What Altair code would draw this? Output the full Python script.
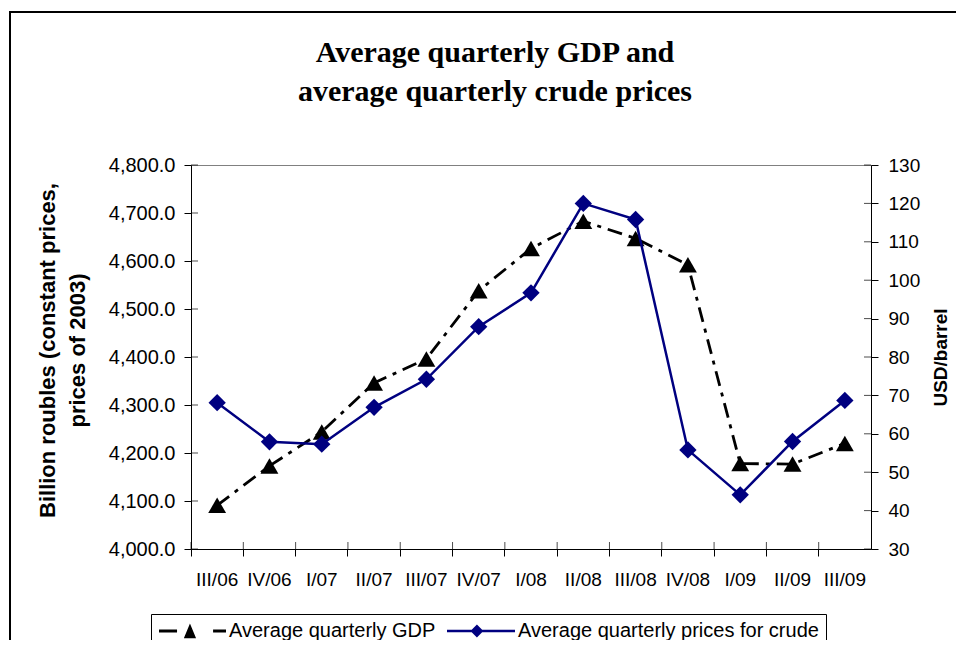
import altair as alt
import pandas as pd

quarters = ["III/06", "IV/06", "I/07", "II/07", "III/07", "IV/07", "I/08",
            "II/08", "III/08", "IV/08", "I/09", "II/09", "III/09"]
gdp = [4091, 4173, 4244, 4346, 4396, 4538, 4626, 4683, 4647, 4592, 4178, 4177, 4220]
crude = [68.1, 57.9, 57.3, 66.9, 74.2, 87.9, 96.7, 120.0, 115.8, 55.8, 44.1, 58.0, 68.7]
series_names = ["Average quarterly GDP", "Average quarterly prices for crude"]
gdp_ticks = list(range(4000, 4801, 100))
crude_ticks = list(range(30, 131, 10))
title_lines = ["Average quarterly GDP and", "average quarterly crude prices"]
left_title = ["Billion roubles (constant prices,", "prices of 2003)"]
right_title = "USD/barrel"

NAVY = "#000080"
W, H = 680, 384
FONT = "Liberation Sans"

df = pd.DataFrame({
    "quarter": quarters * 2,
    "series": [series_names[0]] * len(quarters) + [series_names[1]] * len(quarters),
    "value": gdp + crude,
})
gdp_tick_df = pd.DataFrame({"value": gdp_ticks})
crude_tick_df = pd.DataFrame({"value": crude_ticks})

x_scale = alt.Scale(type="band", paddingInner=0, paddingOuter=0)
x_enc = alt.X(
    "quarter:N", sort=quarters, scale=x_scale,
    axis=alt.Axis(title=None, bandPosition=0, labelAngle=0,
                  labelPadding=14, tickSize=7, labelFontSize=19),
)

base = alt.Chart(df)

gdp_y = alt.Y("value:Q",
              scale=alt.Scale(domain=[4000, 4800], nice=False, zero=False),
              axis=alt.Axis(orient="left", values=gdp_ticks, format=",.1f",
                            title=left_title, titleFontSize=22, titleFontWeight="bold",
                            titleLineHeight=30, titlePadding=19, titleY=185,
                            labelPadding=9, tickSize=7, labelFontSize=20,
                            labelOverlap=False))
crude_y = alt.Y("value:Q",
                scale=alt.Scale(domain=[30, 130], nice=False, zero=False),
                axis=alt.Axis(orient="right", values=crude_ticks, format="d",
                              title=right_title, titleFontSize=19, titleFontWeight="bold",
                              titleAngle=270, titleBaseline="top", titlePadding=12,
                              labelPadding=10, tickSize=7, labelFontSize=19,
                              labelOverlap=False))

gdp_f = base.transform_filter(alt.datum.series == series_names[0])
crude_f = base.transform_filter(alt.datum.series == series_names[1])

gdp_line = gdp_f.mark_line(color="black", strokeWidth=2.8, strokeDash=[15, 7, 4, 7]).encode(x=x_enc, y=gdp_y)
gdp_pts = gdp_f.mark_point(shape="triangle-up", filled=True, color="black", size=320, opacity=1).encode(x=x_enc, y=gdp_y)
crude_line = crude_f.mark_line(color=NAVY, strokeWidth=2.5).encode(x=x_enc, y=crude_y)
crude_pts = crude_f.mark_point(shape="diamond", filled=True, color=NAVY, size=300, opacity=1).encode(x=x_enc, y=crude_y)

# inner halves of the axis ticks (the reference ticks cross the axis lines)
gdp_inner = alt.Chart(gdp_tick_df).mark_tick(orient="horizontal", color="black", thickness=1, size=7).encode(
    y=gdp_y, x=alt.value(3.5))
crude_inner = alt.Chart(crude_tick_df).mark_tick(orient="horizontal", color="black", thickness=1, size=7).encode(
    y=crude_y, x=alt.value(W - 3.5))
x_inner = gdp_f.mark_tick(orient="vertical", color="black", thickness=1, size=7).encode(
    x=alt.X("quarter:N", sort=quarters, scale=x_scale, bandPosition=0),
    y=alt.value(H - 3.5))

path_gdp = ("M-0.97,-0.045H-0.44V0.045H-0.97Z "
            "M-0.24,0.21L-0.06,-0.22L0.12,0.21Z "
            "M0.62,-0.045H1V0.045H0.62Z")
path_crude = ("M-1,-0.04H1V0.04H-1Z "
              "M-0.12,-0.19L0.07,0L-0.12,0.19L-0.31,0Z")

leg = alt.Legend(title=None, orient="none", legendX=-40, legendY=449,
                 direction="horizontal", strokeColor="black", fillColor="white",
                 padding=7, labelFont=FONT, labelFontSize=20, labelColor="black",
                 labelLimit=600, labelOffset=3, columnPadding=11, symbolSize=4624,
                 clipHeight=20, symbolStrokeWidth=0, symbolOpacity=1)

legend_layer = base.mark_point(filled=True, opacity=0).encode(
    x=x_enc, y=alt.value(0),
    color=alt.Color("series:N", scale=alt.Scale(domain=series_names, range=["black", NAVY]), legend=leg),
    shape=alt.Shape("series:N", scale=alt.Scale(domain=series_names, range=[path_gdp, path_crude]), legend=leg),
)

frame = alt.Chart(pd.DataFrame({"k": [0]})).mark_rect(
    fillOpacity=0, stroke="black", strokeWidth=2
).encode(x=alt.value(-181), x2=alt.value(1500), y=alt.value(-153), y2=alt.value(1500))

chart = alt.layer(
    frame,
    alt.layer(gdp_line, gdp_pts, gdp_inner),
    alt.layer(crude_line, crude_pts, crude_inner),
    x_inner,
    legend_layer,
).resolve_scale(y="independent").properties(
    width=W, height=H,
    autosize=alt.AutoSizeParams(type="none"),
    padding={"left": 183, "top": 157, "right": 85, "bottom": 91},
    title=alt.TitleParams(text=title_lines, font="Liberation Serif", fontSize=30,
                          fontWeight="bold", color="black", anchor="middle",
                          frame="group", dx=-36, dy=96, offset=0, lineHeight=39),
).configure_view(stroke="#808080", strokeWidth=1).configure_axis(
    grid=False, domainColor="black", tickColor="black", labelColor="black",
    labelFont=FONT, titleFont=FONT, titleColor="black",
    domainWidth=1, tickWidth=1,
)

chart.save("out.html", embed_options={"renderer": "svg", "actions": False})
